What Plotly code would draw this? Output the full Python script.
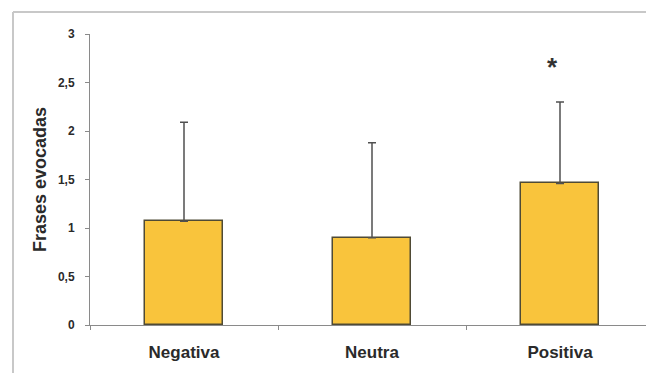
import plotly.graph_objects as go

categories = ["Negativa", "Neutra", "Positiva"]
means = [1.07, 0.90, 1.46]
err_plus = [1.02, 0.98, 0.84]
y_tickvals = [0, 0.5, 1, 1.5, 2, 2.5, 3]
y_ticktext = ["0", "0,5", "1", "1,5", "2", "2,5", "3"]
sig_category = "Positiva"
sig_y = 2.66

fig = go.Figure()
fig.add_trace(go.Bar(
    x=categories, y=means, width=0.41,
    marker=dict(color="#F9C43C", line=dict(color="#4f4a35", width=1.5)),
    error_y=dict(type="data", symmetric=False, array=err_plus, arrayminus=[0, 0, 0],
                 color="#505050", thickness=1.5, width=4),
    showlegend=False,
))
fig.add_annotation(x=sig_category, y=sig_y, text="<b>*</b>", showarrow=False,
                   xshift=-8, font=dict(size=26, color="#333333", family="Liberation Sans, Arial"))

fig.update_layout(
    width=646, height=365,
    margin=dict(l=82, r=0, t=26, b=48),
    paper_bgcolor="white", plot_bgcolor="white",
    font=dict(family="Liberation Sans, Arial", color="#2a2a2a"),
    bargap=0,
    xaxis=dict(showline=True, linecolor="#8a8a8a", linewidth=1,
               ticks="outside", tickson="boundaries", ticklen=4, tickcolor="#8a8a8a",
               ticklabelstandoff=12,
               tickfont=dict(size=17, color="#2a2a2a", weight="bold"), showgrid=False),
    yaxis=dict(range=[0, 3], tickvals=y_tickvals, ticktext=y_ticktext,
               showline=True, linecolor="#8a8a8a", linewidth=1,
               ticks="outside", ticklen=4, tickcolor="#8a8a8a",
               ticklabelstandoff=8,
               tickfont=dict(size=12, color="#2a2a2a", weight="bold"), showgrid=False, zeroline=False,
               title=dict(text="Frases evocadas", font=dict(size=18, color="#2a2a2a", weight="bold"), standoff=6)),
    shapes=[
        dict(type="line", xref="paper", yref="paper", x0=-0.1365, x1=1.02, y0=1.0756, y1=1.0756,
             line=dict(color="#c8c8c8", width=2)),
        dict(type="line", xref="paper", yref="paper", x0=-0.1365, x1=-0.1365, y0=-0.17, y1=1.0756,
             line=dict(color="#c8c8c8", width=2)),
    ],
)
fig.write_html("out.html")
